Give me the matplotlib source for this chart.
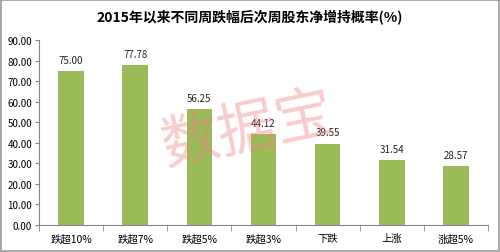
import matplotlib.pyplot as plt
from matplotlib.patches import Rectangle

plt.rcParams['font.family'] = ['Noto Sans CJK SC', 'DejaVu Sans']

categories = ["跌超10%", "跌超7%", "跌超5%", "跌超3%", "下跌", "上涨", "涨超5%"]
values = [75.00, 77.78, 56.25, 44.12, 39.55, 31.54, 28.57]
yticks = [0, 10, 20, 30, 40, 50, 60, 70, 80, 90]

fig = plt.figure(figsize=(5, 2.53), dpi=100)
ax = fig.add_axes([0.078, 0.107, 0.898, 0.731])

x = list(range(len(categories)))
ax.bar(x, values, width=0.4, color="#9BBB59", zorder=2)
for xi, v in zip(x, values):
    ax.text(xi, v + 3, f"{v:.2f}", ha="center", va="bottom", fontsize=7, color="#222222")

ax.set_xlim(-0.5, len(categories) - 0.5)
ax.set_ylim(0, 90)
ax.set_yticks(yticks)
ax.set_yticklabels([f"{t:.2f}" for t in yticks], fontsize=7)
ax.set_xticks(x)
ax.set_xticklabels(categories, fontsize=7.5)
ax.tick_params(axis="x", length=0, pad=6)
ax.set_xticks([i - 0.5 for i in range(len(categories) + 1)], minor=True)
ax.tick_params(axis="x", which="minor", length=4, color="#888888")
ax.tick_params(axis="y", length=3, color="#888888", pad=2)
for s in ["top", "right"]:
    ax.spines[s].set_visible(False)
for s in ["left", "bottom"]:
    ax.spines[s].set_color("#888888")
    ax.spines[s].set_linewidth(0.8)

fig.text(0.5, 0.93, "2015年以来不同周跌幅后次周股东净增持概率(%)", ha="center", va="center",
         fontsize=10, fontweight="bold")

# watermark
fig.text(0.496, 0.485, "数据宝", ha="center", va="center", fontsize=42, color="#F08080",
         alpha=0.4, rotation=12, zorder=5)

fig.patches.append(Rectangle((0.002, 0.004), 0.996, 0.992, transform=fig.transFigure,
                             fill=False, edgecolor="#999999", linewidth=1.2))

fig.savefig("out.png", dpi=100)
